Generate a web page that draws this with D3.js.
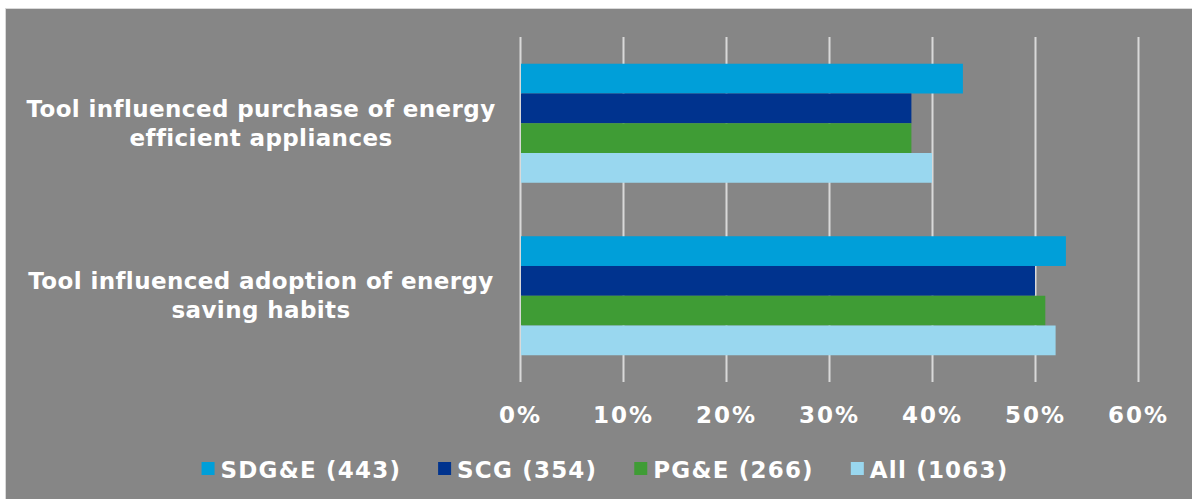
<!DOCTYPE html>
<html>
<head>
<meta charset="utf-8">
<script src="https://cdn.jsdelivr.net/npm/d3@7"></script>
<style>
  html, body { margin: 0; padding: 0; background: #ffffff; }
  svg { display: block; }
  text { font-family: "DejaVu Sans", Verdana, sans-serif; font-weight: bold; fill: #ffffff; }
</style>
</head>
<body>
<svg id="chart" width="1192" height="499"></svg>
<script>
// ---- data ----
const categories = ["purchase", "adoption"];
const categoryLines = [
  ["Tool influenced purchase of energy", "efficient appliances"],
  ["Tool influenced adoption of energy", "saving habits"]
];
const seriesNames = ["SDG&E (443)", "SCG (354)", "PG&E (266)", "All (1063)"];
const sdgeValues = [0.43, 0.53];
const scgValues  = [0.38, 0.50];
const pgeValues  = [0.38, 0.51];
const allValues  = [0.40, 0.52];
const tickValues = [0, 0.1, 0.2, 0.3, 0.4, 0.5, 0.6];
const tickLabels = ["0%", "10%", "20%", "30%", "40%", "50%", "60%"];
const seriesColors = ["#009fd9", "#00338e", "#3f9c35", "#99d7ef"];

const seriesValues = [sdgeValues, scgValues, pgeValues, allValues];

// ---- layout ----
const svg = d3.select("#chart");
const W = 1192, H = 499;
const plot = { left: 520, right: 1138, top: 37, bottom: 382 };

// background panel
svg.append("rect").attr("x", 0).attr("y", 0).attr("width", W).attr("height", H).attr("fill", "#ffffff");
svg.append("rect").attr("x", 5.5).attr("y", 8.5).attr("width", W).attr("height", H)
  .attr("fill", "#868686").attr("stroke", "#d9d9d9").attr("stroke-width", 1);

const x = d3.scaleLinear().domain([0, 0.6]).range([plot.left, plot.right]);
const y = d3.scaleBand().domain(categories).range([plot.top, plot.bottom]).paddingInner(0.31).paddingOuter(0.155);
const ySub = d3.scaleBand().domain(seriesNames).range([0, y.bandwidth()]);

// gridlines
const xAxis = d3.axisBottom(x).tickValues(tickValues).tickSize(-(plot.bottom - plot.top)).tickFormat("");
const gGrid = svg.append("g").attr("transform", `translate(0,${plot.bottom})`).call(xAxis);
gGrid.select(".domain").remove();
gGrid.selectAll(".tick line").attr("stroke", "#d9d9d9").attr("stroke-width", 2);

// bars
const data = [];
categories.forEach((c, ci) => {
  seriesNames.forEach((s, si) => {
    data.push({ cat: c, series: s, value: seriesValues[si][ci], color: seriesColors[si] });
  });
});
svg.append("g").selectAll("rect").data(data).join("rect")
  .attr("x", x(0) + 1)
  .attr("y", d => y(d.cat) + ySub(d.series))
  .attr("width", d => x(d.value) - x(0) - 1)
  .attr("height", ySub.bandwidth())
  .attr("fill", d => d.color);

// tick labels
const tickAxis = d3.axisBottom(x).tickValues(tickValues).tickSize(0)
  .tickFormat((d, i) => tickLabels[i]);
const gTicks = svg.append("g").attr("transform", `translate(0,${plot.bottom})`).call(tickAxis);
gTicks.select(".domain").remove();
gTicks.selectAll(".tick text")
  .attr("y", 41).attr("dy", 0)
  .attr("fill", "#ffffff")
  .style("font-family", "'DejaVu Sans', Verdana, sans-serif")
  .style("font-weight", "bold")
  .style("font-size", "23px")
  .style("letter-spacing", "2px");

// category labels
const catG = svg.append("g");
categories.forEach((c, ci) => {
  const cy = y(c) + y.bandwidth() / 2;
  const t = catG.append("text")
    .attr("text-anchor", "middle")
    .style("font-size", "23px")
    .style("letter-spacing", "0.4px");
  categoryLines[ci].forEach((line, li) => {
    t.append("tspan").attr("x", 261).attr("y", cy - 6.5 + li * 29).text(line);
  });
});

// legend
const legend = svg.append("g");
const items = legend.selectAll("g").data(seriesNames).join("g");
items.append("rect").attr("width", 13).attr("height", 13).attr("y", 462)
  .attr("fill", (d, i) => seriesColors[i]);
items.append("text").attr("x", 19).attr("y", 478)
  .style("font-size", "23px").style("letter-spacing", "1.2px").text(d => d);
const widths = [];
items.each(function () {
  const w = 19 + d3.select(this).select("text").node().getComputedTextLength();
  widths.push(w);
});
const gap = 37;
const total = d3.sum(widths) + gap * (widths.length - 1);
let start = 605 - total / 2;
items.attr("transform", (d, i) => {
  const tx = start;
  start += widths[i] + gap;
  return `translate(${tx},0)`;
});
</script>
</body>
</html>
